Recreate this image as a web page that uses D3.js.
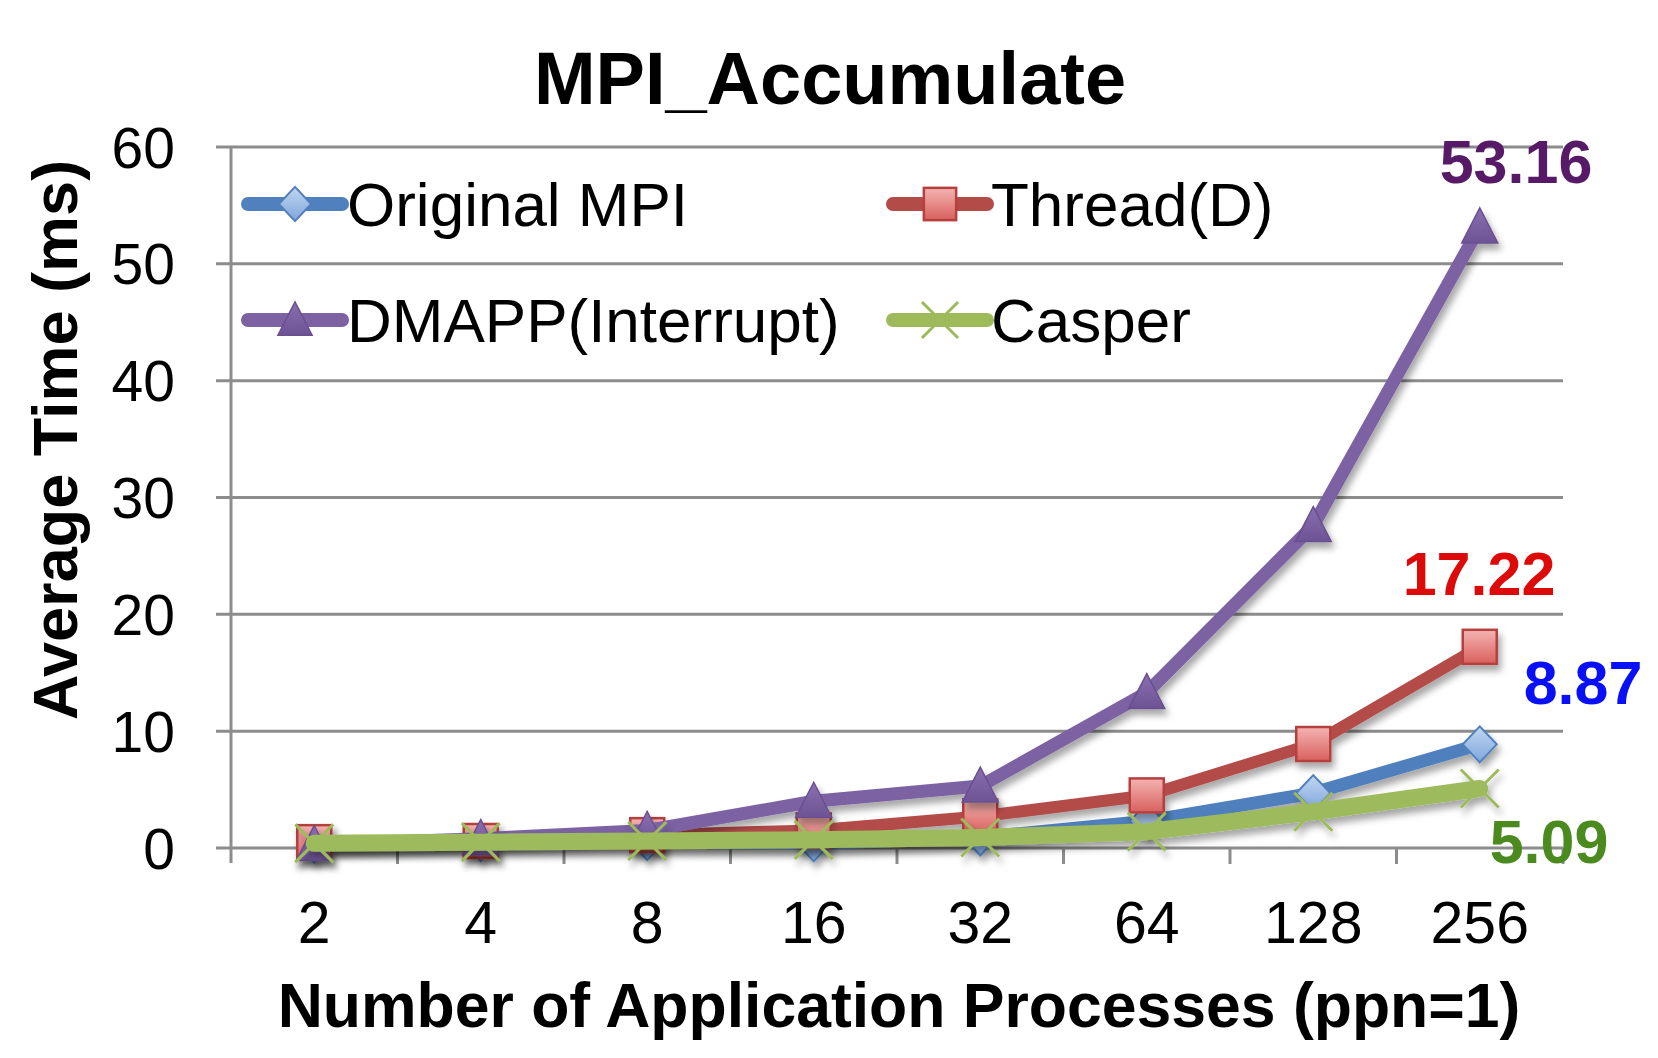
<!DOCTYPE html>
<html><head><meta charset="utf-8">
<script src="https://cdn.jsdelivr.net/npm/d3@7"></script>
<style>body{margin:0;background:#fff} svg{display:block}</style></head>
<body><svg id="c" width="1658" height="1058"></svg>
<script>
const categories = ["2","4","8","16","32","64","128","256"];
const originalMPI = [0.3,0.4,0.5,0.4,0.9,2.3,4.7,8.87];
const threadD     = [0.5,0.6,1.1,1.5,2.7,4.5,8.9,17.22];
const dmapp       = [0.3,0.8,1.5,4.0,5.3,13.3,27.6,53.16];
const casper      = [0.4,0.5,0.6,0.7,0.9,1.4,3.1,5.09];
const yTicks = [0,10,20,30,40,50,60];
const seriesNames = ["Original MPI","Thread(D)","DMAPP(Interrupt)","Casper"];
const endLabels = ["8.87","17.22","53.16","5.09"];
const titleText = "MPI_Accumulate";
const xTitle = "Number of Application Processes (ppn=1)";
const yTitle = "Average Time (ms)";

const svg = d3.select("#c");
const FONT = "'Liberation Sans', Arial, Helvetica, sans-serif";
const L = 231, R = 1563, T = 147, B = 848;

const x = d3.scaleBand().domain(categories).range([L, R]);
const y = d3.scaleLinear().domain([0, 60]).range([B, T]);

const defs = svg.append("defs");
const f = defs.append("filter").attr("id","sh").attr("x","-20%").attr("y","-20%").attr("width","150%").attr("height","150%");
f.append("feDropShadow").attr("dx",3).attr("dy",6).attr("stdDeviation",3.5).attr("flood-color","#000").attr("flood-opacity",0.35);
function grad(id, c1, c2){
  const g = defs.append("linearGradient").attr("id",id).attr("x1",0).attr("y1",0).attr("x2",0).attr("y2",1);
  g.append("stop").attr("offset","0%").attr("stop-color",c1);
  g.append("stop").attr("offset","100%").attr("stop-color",c2);
}
grad("gBlue","#c2d6f0","#7ea6dc");
grad("gRed","#f4b4b2","#d8605d");
grad("gPurple","#8a6fb0","#6d5394");

// gridlines
svg.append("g").selectAll("line").data(yTicks).join("line")
  .attr("x1", L-15).attr("x2", R).attr("y1", d=>y(d)).attr("y2", d=>y(d))
  .attr("stroke","#8c8c8c").attr("stroke-width",3);
// y axis line
svg.append("line").attr("x1",L).attr("x2",L).attr("y1",T).attr("y2",B+15)
  .attr("stroke","#8c8c8c").attr("stroke-width",3);
// x ticks at band boundaries
const bounds = categories.map(c=>x(c)).concat([R]);
svg.append("g").selectAll("line").data(bounds.slice(1)).join("line")
  .attr("x1",d=>d).attr("x2",d=>d).attr("y1",B).attr("y2",B+16)
  .attr("stroke","#8c8c8c").attr("stroke-width",3);

// y tick labels
svg.append("g").selectAll("text").data(yTicks).join("text")
  .attr("x",175).attr("y",d=>y(d)).attr("dy","0.36em").attr("text-anchor","end")
  .attr("font-family",FONT).attr("font-size",57).attr("fill","#000").text(d=>d);
// x tick labels
svg.append("g").selectAll("text").data(categories).join("text")
  .attr("x",d=>x(d)+x.bandwidth()/2).attr("y",943).attr("text-anchor","middle")
  .attr("font-family",FONT).attr("font-size",59).attr("fill","#000").text(d=>d);

// titles
svg.append("text").attr("x",830).attr("y",104).attr("text-anchor","middle")
  .attr("font-family",FONT).attr("font-weight","bold").attr("font-size",74).text(titleText);
svg.append("text").attr("x",899).attr("y",1027).attr("text-anchor","middle")
  .attr("font-family",FONT).attr("font-weight","bold").attr("font-size",62.5).text(xTitle);
svg.append("text").attr("transform","translate(77,440) rotate(-90)").attr("text-anchor","middle")
  .attr("font-family",FONT).attr("font-weight","bold").attr("font-size",63).text(yTitle);

const series = [
  {name:seriesNames[0], v:originalMPI, line:"#5080bd", w:13, marker:"diamond"},
  {name:seriesNames[1], v:threadD, line:"#b34b48", w:12, marker:"square"},
  {name:seriesNames[2], v:dmapp, line:"#7c62a3", w:13, marker:"triangle"},
  {name:seriesNames[3], v:casper, line:"#9dbb5b", w:17, marker:"x"}
];

function drawMarker(g, type, cx, cy, s){
  s = s || 1;
  if(type==="diamond"){
    g.append("path").attr("d",`M${cx},${cy-18*s}L${cx+17*s},${cy}L${cx},${cy+18*s}L${cx-17*s},${cy}Z`)
      .attr("fill","url(#gBlue)").attr("stroke","#4f7fbd").attr("stroke-width",2);
  } else if(type==="square"){
    g.append("rect").attr("x",cx-17*s).attr("y",cy-17*s).attr("width",34*s).attr("height",34*s)
      .attr("fill","url(#gRed)").attr("stroke","#b5403d").attr("stroke-width",2.5);
  } else if(type==="triangle"){
    g.append("path").attr("d",`M${cx},${cy-19*s}L${cx+18*s},${cy+16*s}L${cx-18*s},${cy+16*s}Z`)
      .attr("fill","url(#gPurple)").attr("stroke","#6a5090").attr("stroke-width",1.5);
  } else {
    g.append("path").attr("d",`M${cx-19*s},${cy-19*s}L${cx+19*s},${cy+19*s}M${cx+19*s},${cy-19*s}L${cx-19*s},${cy+19*s}`)
      .attr("stroke","#9dbb5b").attr("stroke-width",3).attr("fill","none");
  }
}

const lineGen = d3.line().x((d,i)=>x(categories[i])+x.bandwidth()/2).y(d=>y(d));
series.forEach(s=>{
  const g = svg.append("g").attr("filter","url(#sh)");
  g.append("path").attr("d",lineGen(s.v)).attr("fill","none").attr("stroke",s.line)
    .attr("stroke-width",s.w).attr("stroke-linejoin","round").attr("stroke-linecap","round");
  s.v.forEach((d,i)=>drawMarker(g, s.marker, x(categories[i])+x.bandwidth()/2, y(d)));
});

// end labels
const labelCfg = [
  {t:endLabels[2], c:"#571a66", x:1516, y:161},
  {t:endLabels[1], c:"#dd0a0a", x:1479, y:573},
  {t:endLabels[0], c:"#0a10f5", x:1583, y:682},
  {t:endLabels[3], c:"#4a8a1e", x:1549, y:841}
];
svg.append("g").selectAll("text").data(labelCfg).join("text")
  .attr("x",d=>d.x).attr("y",d=>d.y).attr("dy","0.36em").attr("text-anchor","middle")
  .attr("font-family",FONT).attr("font-weight","bold").attr("font-size",61)
  .attr("fill",d=>d.c).text(d=>d.t);

// legend
const legPos = [{lx:248, tx:347, y:204},{lx:893, tx:991, y:204},{lx:248, tx:347, y:320},{lx:893, tx:991, y:320}];
series.forEach((s,i)=>{
  const p = legPos[i];
  const g = svg.append("g");
  g.append("line").attr("x1",p.lx).attr("x2",p.lx+94).attr("y1",p.y).attr("y2",p.y)
    .attr("stroke",s.line).attr("stroke-width",14).attr("stroke-linecap","round");
  drawMarker(g, s.marker, p.lx+47, p.y, 0.95);
  g.append("text").attr("x",p.tx).attr("y",p.y).attr("dy","0.36em")
    .attr("font-family",FONT).attr("font-size",62).attr("fill","#000").text(s.name);
});
</script></body></html>
